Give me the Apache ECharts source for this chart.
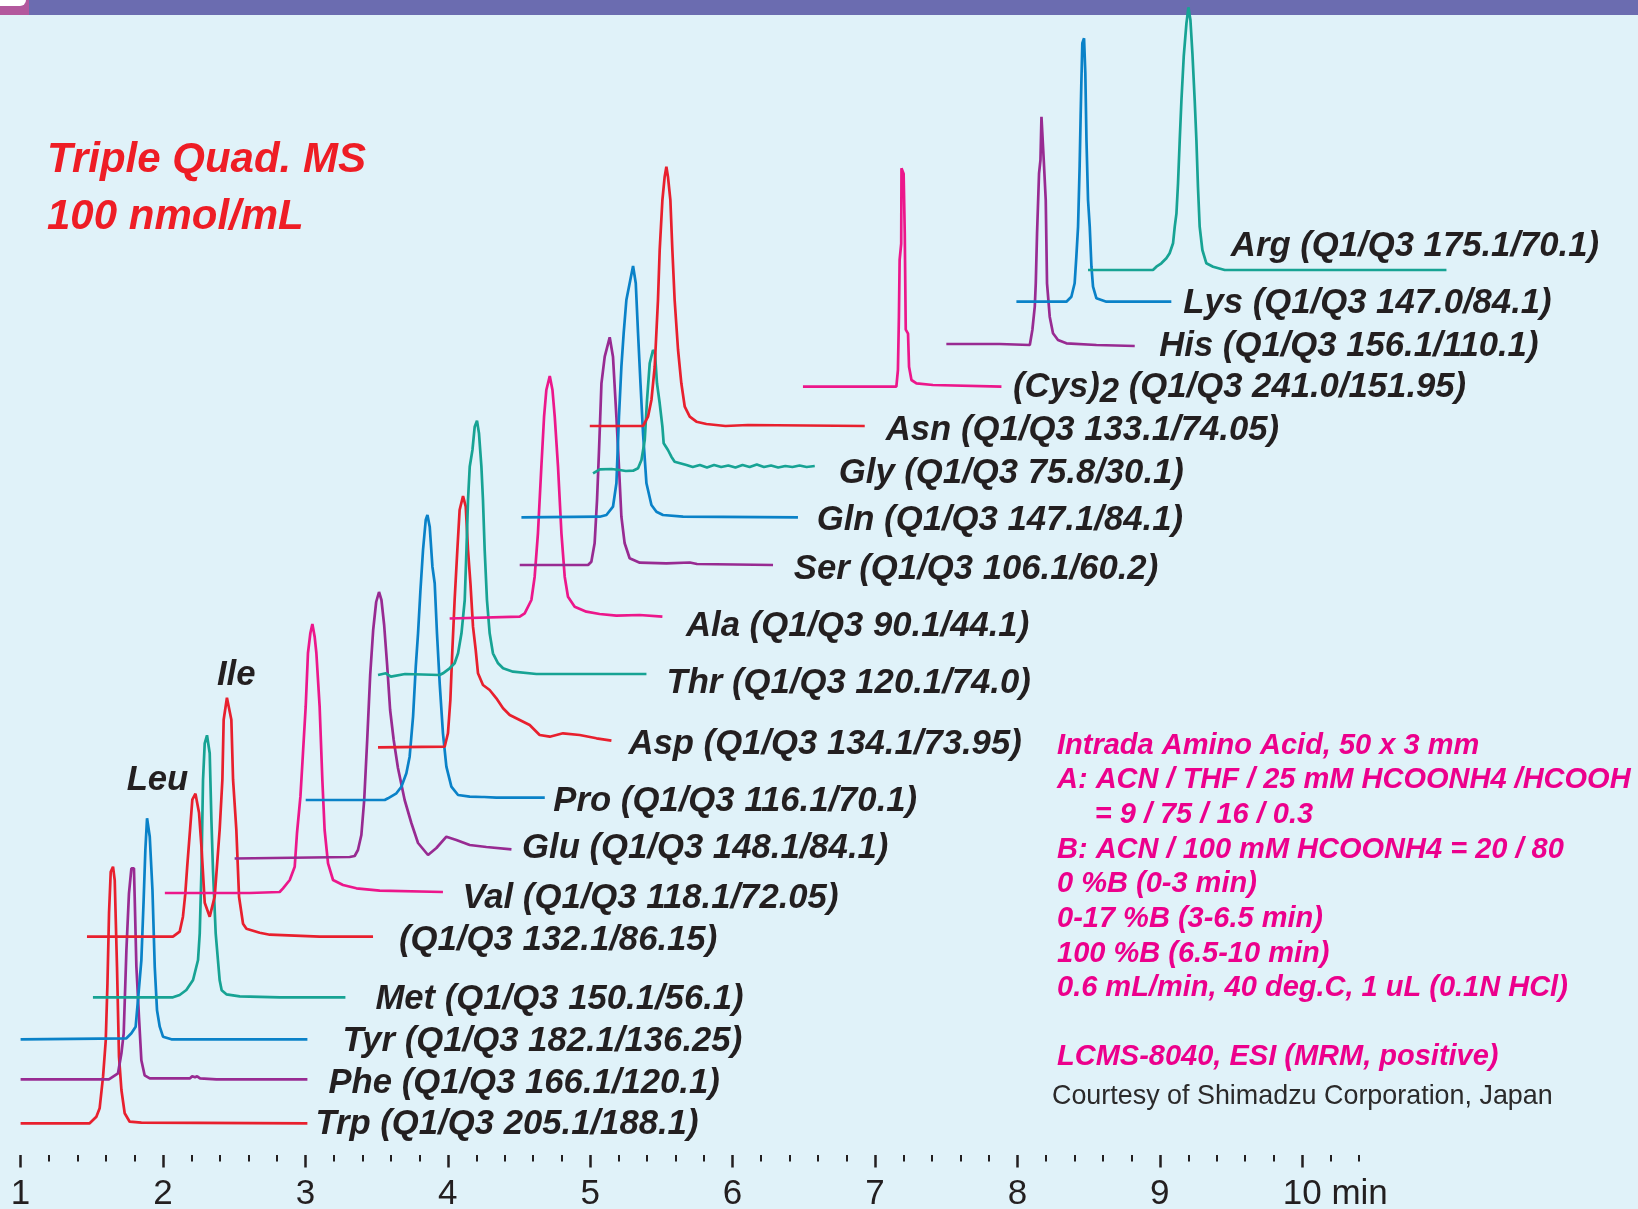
<!DOCTYPE html>
<html>
<head>
<meta charset="utf-8">
<title>Amino acids – Triple Quad MS (MRM) chromatogram</title>
<script src="https://cdn.jsdelivr.net/npm/echarts@6/dist/echarts.min.js"></script>
<style>
  html, body { margin: 0; padding: 0; background: #e0f2f9; }
  #chart { width: 1638px; height: 1209px; }
</style>
</head>
<body>
<div id="chart"></div>
<script>
// ---- Retention time axis ----------------------------------------------------
const majorTicks = [1, 2, 3, 4, 5, 6, 7, 8, 9, 10];
const minorTicks = [];
for (let k = 6; k <= 52; k++) if (k % 5) minorTicks.push(k / 5);   // 0.2 min steps up to 10.4

// ---- MRM traces: [retention time (min), response above own baseline] --------
const trp = [[1.000,0],[1.485,0],[1.532,6.6],[1.555,15],[1.579,46.6],[1.598,83],[1.610,140],[1.621,210],[1.633,251.6],[1.649,256.6],[1.661,243],[1.677,156.6],[1.691,66.6],[1.708,33.3],[1.731,10],[1.766,1.6],[1.848,0.6],[3.014,0]];
const phe = [[1.000,0],[1.620,0],[1.684,6],[1.708,26],[1.724,46],[1.743,129],[1.761,186],[1.778,211],[1.796,211],[1.801,183],[1.813,113],[1.831,63],[1.848,19],[1.871,4],[1.907,1],[2.190,1],[2.205,3],[2.225,2],[2.240,3],[2.260,1],[2.375,0],[3.014,0]];
const tyr = [[1.000,0],[1.743,1],[1.778,6],[1.808,12.6],[1.824,39],[1.848,79],[1.864,139],[1.876,189],[1.888,221],[1.896,221],[1.907,202.6],[1.926,149],[1.942,72.6],[1.958,29],[1.977,12.6],[2.000,2.6],[2.059,0],[3.014,0]];
const met = [[1.508,0],[2.070,0],[2.117,2.3],[2.164,7.3],[2.211,17.3],[2.246,37.3],[2.258,64],[2.270,127],[2.281,217],[2.293,254],[2.309,262],[2.317,260],[2.328,244],[2.340,177],[2.351,127],[2.370,64],[2.386,37],[2.398,17],[2.412,7],[2.445,3],[2.539,1],[2.820,0],[3.281,0]];
const leuIle = [[1.466,0],[2.070,0],[2.117,5],[2.140,20],[2.156,42],[2.171,72],[2.190,107],[2.206,137],[2.228,143],[2.253,124],[2.270,90],[2.293,34],[2.328,20],[2.363,40],[2.398,107],[2.417,157],[2.426,217],[2.449,239],[2.480,217],[2.492,157],[2.515,107],[2.534,40],[2.562,13],[2.586,8],[2.679,4],[2.750,2],[3.100,0],[3.475,0]];
const val = [[2.013,-1],[2.609,-1],[2.623,0],[2.819,0],[2.843,3.7],[2.890,12],[2.925,25.3],[2.941,59],[2.965,95.3],[2.983,139],[3.002,185.3],[3.018,239],[3.035,259],[3.049,268],[3.065,255.3],[3.077,239],[3.100,185.3],[3.119,112],[3.135,62],[3.159,28.7],[3.194,12],[3.264,7],[3.358,3.7],[3.522,1.3],[3.966,0]];
const glu = [[2.503,0],[3.311,1.5],[3.346,2.5],[3.369,8.5],[3.393,23.5],[3.413,58.5],[3.434,118.5],[3.455,183.5],[3.476,228.5],[3.497,256.5],[3.517,266.5],[3.534,258.5],[3.553,233.5],[3.574,193.5],[3.595,148.5],[3.620,118.5],[3.650,90.5],[3.697,58.5],[3.744,35.5],[3.791,15.5],[3.861,3.5],[3.920,10.5],[3.990,21.8],[4.060,18.5],[4.154,13.5],[4.271,11.5],[4.447,9.2]];
const pro = [[3.002,0],[3.557,0],[3.580,1.7],[3.639,6.7],[3.674,13.3],[3.709,26.7],[3.732,43.3],[3.756,83.3],[3.775,133.3],[3.791,166.7],[3.808,210],[3.826,250],[3.845,280],[3.857,285],[3.873,273.3],[3.892,233.3],[3.908,216.7],[3.924,166.7],[3.943,116.7],[3.966,66.7],[3.990,33.3],[4.025,13.3],[4.072,5],[4.154,3.3],[4.240,3],[4.247,1.5],[4.255,3],[4.341,2.3],[4.681,2.3]];
const asp = [[3.510,0],[3.978,0.6],[4.001,14],[4.018,47.3],[4.032,97.3],[4.048,147.3],[4.067,197.3],[4.083,237.3],[4.107,251.3],[4.126,240.6],[4.142,197.3],[4.159,164],[4.177,120.6],[4.196,97.3],[4.212,74],[4.247,62.3],[4.294,57.3],[4.341,49],[4.388,39],[4.435,32.3],[4.505,27.3],[4.575,22.3],[4.645,12.3],[4.716,10.6],[4.809,14],[4.926,12.3],[5.044,9],[5.149,6.6]];
const thr = [[3.510,0],[3.565,1.7],[3.600,-1.7],[3.700,1],[3.943,0],[3.966,1.7],[4.013,6.7],[4.048,11.7],[4.072,21.7],[4.096,41.7],[4.119,75],[4.131,125],[4.142,175],[4.154,208.3],[4.173,225],[4.189,248.3],[4.205,254.3],[4.219,241.7],[4.236,208.3],[4.247,175],[4.259,125],[4.275,75],[4.294,41.7],[4.317,21.7],[4.353,11.7],[4.388,6.7],[4.458,3.3],[4.622,1],[5.395,1]];
const ala = [[4.013,0],[4.505,1.8],[4.540,5.2],[4.587,18.5],[4.610,41.8],[4.633,85.2],[4.657,151.8],[4.676,201.8],[4.692,228.5],[4.716,242.5],[4.735,228.5],[4.751,201.8],[4.774,151.8],[4.798,85.2],[4.821,41.8],[4.844,21.8],[4.891,11.8],[4.973,6.8],[5.066,4.5],[5.184,2.8],[5.347,3.5],[5.507,1.8]];
const ser = [[4.505,0],[4.985,0],[5.008,3.3],[5.031,21.7],[5.048,65],[5.062,115],[5.079,181.7],[5.102,208.3],[5.137,227.7],[5.160,208.3],[5.184,148.3],[5.202,98.3],[5.219,48.3],[5.242,21.7],[5.277,6.7],[5.348,2.3],[5.535,1.7],[5.700,2.5],[5.750,1],[6.284,0]];
const gln = [[4.517,0],[5.067,0.6],[5.114,2.3],[5.160,10.6],[5.184,34],[5.202,100.6],[5.219,150.6],[5.235,184],[5.254,217.3],[5.301,251.3],[5.320,234],[5.336,184],[5.353,134],[5.371,84],[5.395,34],[5.430,12.3],[5.465,5.6],[5.511,2.3],[5.652,0.6],[6.459,0]];
const gly = [[5.020,-3.3],[5.067,0.7],[5.150,1],[5.207,0],[5.250,-1],[5.301,-0.7],[5.336,1.7],[5.360,10],[5.383,30],[5.399,70],[5.418,106.7],[5.441,120],[5.455,116.7],[5.469,86.7],[5.488,66.7],[5.507,43.3],[5.516,26.7],[5.546,20],[5.570,13.3],[5.593,8.3],[5.676,5],[5.720,3],[5.770,5],[5.820,2.5],[5.870,5],[5.920,3],[5.970,4.5],[6.020,2.5],[6.070,5],[6.120,3],[6.170,5.5],[6.220,3],[6.270,4.5],[6.320,2.5],[6.370,4],[6.420,3],[6.470,4.5],[6.520,3],[6.577,4]];
const asn = [[4.997,0],[5.371,0],[5.406,9.3],[5.430,26],[5.453,59.3],[5.476,126],[5.488,176],[5.507,226],[5.523,249.3],[5.535,259.3],[5.546,249.3],[5.563,226],[5.577,176],[5.593,126],[5.617,76],[5.640,42.7],[5.664,19.3],[5.699,9.3],[5.746,4.3],[5.816,2],[5.950,0],[5.960,2],[6.108,1],[6.928,0]];
const cys2 = [[6.494,0],[7.150,0],[7.161,16.7],[7.168,70],[7.173,126.7],[7.184,143],[7.186,218.4],[7.192,218],[7.201,213],[7.209,153],[7.216,57],[7.232,53],[7.239,20],[7.256,6.7],[7.291,3.4],[7.407,1.7],[7.888,0]];
const his = [[7.501,1],[7.876,1],[8.087,0],[8.091,3.3],[8.105,15],[8.122,38.3],[8.129,61.7],[8.138,111.7],[8.152,171.7],[8.162,185],[8.169,228.3],[8.180,226.7],[8.185,185],[8.199,145],[8.208,61.7],[8.227,28.3],[8.250,11.7],[8.285,5],[8.344,1.7],[8.555,0],[8.824,-1]];
const lys = [[7.993,0],[8.344,0],[8.379,5],[8.402,18.4],[8.414,45],[8.426,75],[8.437,135],[8.444,185],[8.449,218.4],[8.456,258.4],[8.468,263.4],[8.477,228.4],[8.485,161.7],[8.496,101.7],[8.508,75],[8.520,35],[8.531,15],[8.555,3.4],[8.625,0],[9.081,0]];
const arg = [[8.496,0],[8.952,0],[8.976,3.3],[9.011,6.7],[9.046,11.7],[9.069,16.7],[9.093,26.7],[9.105,43.3],[9.117,56.7],[9.128,86.7],[9.140,130],[9.152,170],[9.168,213.3],[9.187,246.7],[9.201,262.7],[9.215,250],[9.229,216.7],[9.245,170],[9.257,130],[9.268,83.3],[9.280,43.3],[9.299,20],[9.327,6.7],[9.374,3.3],[9.456,0],[11.013,0]];

// ---- Per-trace metadata ------------------------------------------------------
const compounds   = ['Trp', 'Phe', 'Tyr', 'Met', '', 'Val', 'Glu', 'Pro', 'Asp', 'Thr', 'Ala', 'Ser', 'Gln', 'Gly', 'Asn', '(Cys)2', 'His', 'Lys', 'Arg'];
const transitions = ['205.1/188.1', '166.1/120.1', '182.1/136.25', '150.1/56.1', '132.1/86.15', '118.1/72.05', '148.1/84.1', '116.1/70.1', '134.1/73.95', '120.1/74.0', '90.1/44.1', '106.1/60.2', '147.1/84.1', '75.8/30.1', '133.1/74.05', '241.0/151.95', '156.1/110.1', '147.0/84.1', '175.1/70.1'];
const baselines   = [31.7, 75.7, 115.7, 157.7, 218.3, 263, 296.5, 355, 407.7, 480, 536.5, 590, 637.7, 685, 729, 768.3, 810, 853.3, 885];
const traces      = [trp, phe, tyr, met, leuIle, val, glu, pro, asp, thr, ala, ser, gln, gly, asn, cys2, his, lys, arg];

// ---- Styling -----------------------------------------------------------------
const RED = '#e8202e', BLUE = '#0a82c8', PURPLE = '#982b92', TEAL = '#17a394', MAGENTA = '#ec178b';
const traceColors = [RED, PURPLE, BLUE, TEAL, RED, MAGENTA, PURPLE, BLUE, RED, TEAL, MAGENTA, PURPLE, BLUE, TEAL, RED, MAGENTA, PURPLE, BLUE, TEAL];
const labelGap = [8, 21, 35, 30, 26, 19.5, 10.6, 8.6, 17, 20, 23.6, 20.7, 18.7, 24, 21, 11.6, 24.5, 12, -215.6];
const labelDy  = [-1.3, 2, 0, 0, 1, 3.5, -3, 1.3, 1, 7, 7, 2, 1, 5, 2, -2, -2.3, -1, -26.6].map(d => d + 2.6);
const FONT = '"Liberation Sans", Arial, Helvetica, sans-serif';
const INK = '#231f20';
const LABEL_SIZE = 34.7;

function labelText(i) {
  const q = '(Q1/Q3 ' + transitions[i] + ')';
  const name = compounds[i];
  if (name === '(Cys)2') return '(Cys){s|2} ' + q;
  return name ? name + ' ' + q : q;
}
function shiftPadding(dy) {
  return dy >= 0 ? [2 * dy, 0, 0, 0] : [0, 0, -2 * dy, 0];
}
function peakOf(pts, from, to) {
  return pts.filter(p => p[0] >= from && p[0] <= to).reduce((a, b) => (b[1] > a[1] ? b : a));
}

const series = traces.map((pts, i) => {
  const s = {
    type: 'line',
    name: compounds[i] || transitions[i],
    data: pts.map(p => [p[0], baselines[i] + p[1]]),
    showSymbol: false,
    symbol: 'none',
    smooth: false,
    clip: false,
    silent: true,
    animation: false,
    lineStyle: { color: traceColors[i], width: 2.7 },
    endLabel: {
      show: true,
      formatter: labelText(i),
      distance: labelGap[i],
      padding: shiftPadding(labelDy[i]),
      color: INK,
      fontFamily: FONT,
      fontSize: LABEL_SIZE,
      fontStyle: 'italic',
      fontWeight: 'bold',
      rich: { s: { fontFamily: FONT, fontSize: LABEL_SIZE, fontStyle: 'italic', fontWeight: 'bold', color: INK, padding: [10, 0, 0, 0] } }
    }
  };
  if (pts === leuIle) {
    const leu = peakOf(leuIle, 2.1, 2.3), ile = peakOf(leuIle, 2.35, 2.55);
    const lab = (txt, off) => ({
      show: true, formatter: txt, position: 'inside', offset: off,
      color: INK, fontFamily: FONT, fontSize: LABEL_SIZE, fontStyle: 'italic', fontWeight: 'bold'
    });
    s.markPoint = {
      symbol: 'circle', symbolSize: 1, silent: true, animation: false,
      itemStyle: { color: 'rgba(0,0,0,0)' },
      data: [
        { coord: [leu[0], baselines[i] + leu[1]], label: lab('Leu', [-38, -13.6]) },
        { coord: [ile[0], baselines[i] + ile[1]], label: lab('Ile', [9.3, -22.6]) }
      ]
    };
  }
  return s;
});

// ---- Method notes ------------------------------------------------------------
const conditionLines = [
  ['Intrada Amino Acid, 50 x 3 mm', 0],
  ['A: ACN / THF / 25 mM HCOONH4 /HCOOH', 0],
  ['= 9 / 75 / 16 / 0.3', 37.7],
  ['B: ACN / 100 mM HCOONH4 = 20 / 80', 0],
  ['0 %B (0-3 min)', 0],
  ['0-17 %B (3-6.5 min)', 0],
  ['100 %B (6.5-10 min)', 0],
  ['0.6 mL/min, 40 deg.C, 1 uL (0.1N HCl)', 0]
];
const PINK_TEXT = '#ec008c';
const graphics = [
  { type: 'rect', left: 0, top: 0, shape: { width: 1638, height: 15 }, style: { fill: '#6b6cb0' }, silent: true, z: 0 },
  { type: 'rect', left: 0, top: 0, shape: { width: 29, height: 15 }, style: { fill: '#b3589d' }, silent: true, z: 0 },
  { type: 'rect', left: 0, top: 0, shape: { width: 26, height: 6, r: [0, 0, 6, 0] }, style: { fill: '#ffffff' }, silent: true, z: 0 },
  { type: 'text', x: 47, y: 160, silent: true,
    style: { text: 'Triple Quad. MS', fill: '#ee1d25', fontFamily: FONT, fontSize: 42, fontStyle: 'italic', fontWeight: 'bold', verticalAlign: 'middle' } },
  { type: 'text', x: 47, y: 217, silent: true,
    style: { text: '100 nmol/mL', fill: '#ee1d25', fontFamily: FONT, fontSize: 42, fontStyle: 'italic', fontWeight: 'bold', verticalAlign: 'middle' } }
];
conditionLines.forEach(([txt, indent], k) => {
  graphics.push({ type: 'text', x: 1057 + indent, y: 745.5 + k * 34.7, silent: true,
    style: { text: txt, fill: PINK_TEXT, fontFamily: FONT, fontSize: 29, fontStyle: 'italic', fontWeight: 'bold', verticalAlign: 'middle' } });
});
graphics.push({ type: 'text', x: 1057, y: 1057, silent: true,
  style: { text: 'LCMS-8040, ESI (MRM, positive)', fill: PINK_TEXT, fontFamily: FONT, fontSize: 29, fontStyle: 'italic', fontWeight: 'bold', verticalAlign: 'middle' } });
graphics.push({ type: 'text', x: 1052, y: 1097, silent: true,
  style: { text: 'Courtesy of Shimadzu Corporation, Japan', fill: '#2b2a2a', fontFamily: FONT, fontSize: 26.9, verticalAlign: 'middle' } });

// ---- Chart -------------------------------------------------------------------
const PX_PER_MIN = 142.4;
const X_MIN = 1, X_MAX = 11.2;
const GRID_LEFT = 20.6;
const chart = echarts.init(document.getElementById('chart'), null, { renderer: 'canvas' });
chart.setOption({
  backgroundColor: '#e0f2f9',
  animation: false,
  grid: {
    left: GRID_LEFT,
    right: 1638 - (GRID_LEFT + (X_MAX - X_MIN) * PX_PER_MIN),
    top: 0,
    bottom: 54,
    containLabel: false,
    outerBoundsMode: 'none'
  },
  xAxis: [
    {
      type: 'value', min: X_MIN, max: X_MAX, position: 'bottom',
      axisLine: { show: false }, splitLine: { show: false },
      axisTick: { show: true, customValues: majorTicks, length: 12.5, lineStyle: { color: INK, width: 2.5 } },
      axisLabel: {
        show: true, customValues: majorTicks, margin: 22,
        formatter: v => (v === 10 ? '{g|min }{n|10 min}' : '{n|' + v + '}'),
        rich: {
          n: { fontFamily: FONT, fontSize: 35, color: INK },
          g: { fontFamily: FONT, fontSize: 35, color: 'rgba(0,0,0,0)' }
        }
      }
    },
    {
      type: 'value', min: X_MIN, max: X_MAX, position: 'bottom',
      axisLine: { show: false }, splitLine: { show: false }, axisLabel: { show: false },
      axisTick: { show: true, customValues: minorTicks, length: 6.5, lineStyle: { color: INK, width: 2 } }
    }
  ],
  yAxis: { type: 'value', min: 0, max: 1155, show: false },
  graphic: graphics,
  series: series
});
</script>
</body>
</html>
